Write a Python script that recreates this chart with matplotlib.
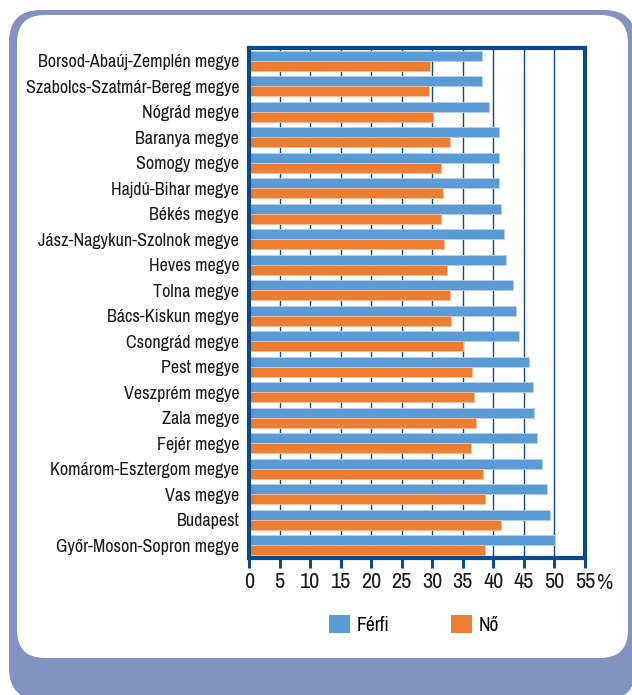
import matplotlib
matplotlib.use("Agg")
import matplotlib.pyplot as plt
from matplotlib.patches import FancyBboxPatch, Patch
import numpy as np

categories = [
    "Borsod-Abaúj-Zemplén megye", "Szabolcs-Szatmár-Bereg megye", "Nógrád megye",
    "Baranya megye", "Somogy megye", "Hajdú-Bihar megye", "Békés megye",
    "Jász-Nagykun-Szolnok megye", "Heves megye", "Tolna megye", "Bács-Kiskun megye",
    "Csongrád megye", "Pest megye", "Veszprém megye", "Zala megye", "Fejér megye",
    "Komárom-Esztergom megye", "Vas megye", "Budapest", "Győr-Moson-Sopron megye",
]
ferfi = [38.2, 38.2, 39.3, 40.9, 40.9, 41.0, 41.2, 41.8, 42.1, 43.2,
         43.7, 44.2, 45.8, 46.5, 46.7, 47.2, 48.0, 48.7, 49.3, 50.1]
no = [29.6, 29.5, 30.2, 32.9, 31.5, 31.7, 31.5, 32.0, 32.4, 32.9,
      33.1, 35.0, 36.5, 36.8, 37.2, 36.3, 38.3, 38.7, 41.2, 38.6]
series_names = ["Férfi", "Nő"]
xticks = list(range(0, 56, 5))

FONT = ["Archivo Narrow", "DejaVu Sans"]

W, H = 632, 695
fig = plt.figure(figsize=(W / 100, H / 100), dpi=100)
fig.patch.set_facecolor("white")

bg = fig.add_axes([0, 0, 1, 1], zorder=-10)
bg.set_xlim(0, W)
bg.set_ylim(H, 0)
bg.axis("off")
LAV = "#8392BE"
bg.add_patch(FancyBboxPatch((9, 10), 627, 690, boxstyle="round,pad=0,rounding_size=32",
                            facecolor=LAV, edgecolor="none"))
bg.add_patch(FancyBboxPatch((17, 15), 611, 643, boxstyle="round,pad=0,rounding_size=28",
                            facecolor="white", edgecolor="none"))

DB = "#0d4a8a"
TXT = "#1a1a1a"
left, right, top, bottom = 249, 585, 48, 558
ax = fig.add_axes([left / W, 1 - bottom / H, (right - left) / W, (bottom - top) / H])
y = np.arange(len(categories))
h = 0.39
ax.barh(y - h / 2, ferfi, height=h, color="#5B9BD5", edgecolor="#b5d2ee", linewidth=0.6,
        label=series_names[0], zorder=3)
ax.barh(y + h / 2, no, height=h, color="#ED7D31", edgecolor="#f6c09c", linewidth=0.6,
        label=series_names[1], zorder=3)
ax.set_xlim(0, 55)
ax.set_ylim(len(categories) - 0.5, -0.5)
ax.set_xticks(xticks)
ax.set_xticklabels([str(t) for t in xticks])
ax.set_yticks(y)
ax.set_yticklabels(categories)
ax.xaxis.grid(True, color=DB, linewidth=1.0, zorder=0)
ax.set_axisbelow(True)
for s in ax.spines.values():
    s.set_color(DB)
    s.set_linewidth(3.0)
    s.set_zorder(5)
ax.tick_params(axis="x", direction="out", length=7, width=2.2, color=DB, pad=3,
               labelsize=16, labelcolor=TXT)
ax.tick_params(axis="y", length=0, pad=7, labelsize=13, labelcolor=TXT)
for lab in ax.get_xticklabels() + ax.get_yticklabels():
    lab.set_family(FONT)

fig.text(597 / W, 1 - 583 / H, "%", ha="left", va="center", fontsize=16,
         family=FONT, color=TXT)

handles = [Patch(facecolor="#5B9BD5", edgecolor="none"), Patch(facecolor="#ED7D31", edgecolor="none")]
fig.legend(handles, series_names, loc="center", bbox_to_anchor=(414 / W, 1 - 625 / H),
           ncol=2, frameon=False, handlelength=1.05, handleheight=1.05, handletextpad=0.35,
           columnspacing=3.2, prop={"family": FONT, "size": 14})

fig.savefig("out.png", dpi=100, facecolor="white")
